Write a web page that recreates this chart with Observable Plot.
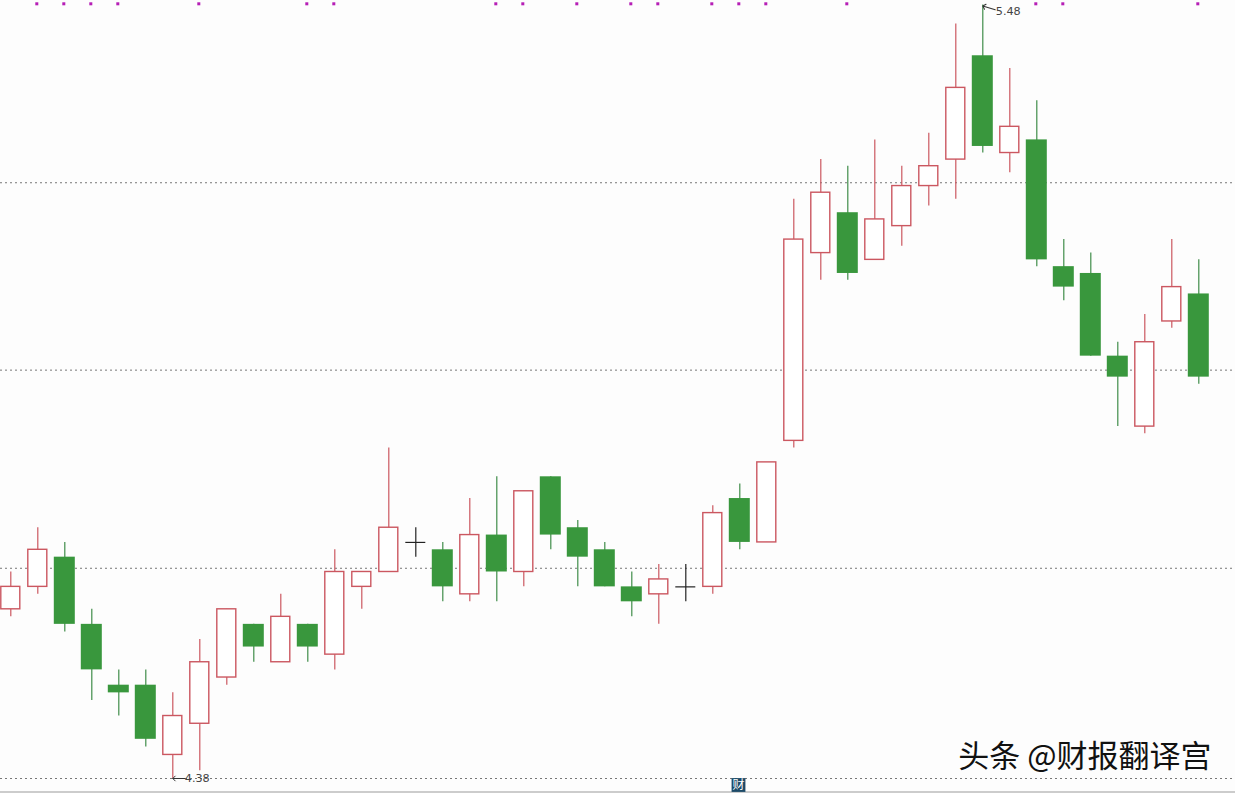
<!DOCTYPE html>
<html>
<head>
<meta charset="utf-8">
<script src="https://cdn.jsdelivr.net/npm/d3@7"></script>
<script src="https://cdn.jsdelivr.net/npm/@observablehq/plot@0.6"></script>
<style>
  html, body { margin: 0; padding: 0; background: #fdfdfd; overflow: hidden; }
  svg { display: block; }
</style>
</head>
<body>
<div id="chart"></div>
<script>
const opens  = [4.60,4.63,4.67,4.58,4.50,4.50,4.41,4.45,4.51,4.58,4.53,4.58,4.54,4.63,4.65,4.69,4.68,4.62,4.70,4.65,4.78,4.71,4.68,4.63,4.62,4.63,4.63,4.75,4.69,4.83,5.10,5.16,5.09,5.14,5.20,5.24,5.40,5.25,5.27,5.08,5.07,4.95,4.85,5.00,5.04];
const highs  = [4.65,4.71,4.69,4.60,4.52,4.52,4.49,4.56,4.60,4.58,4.62,4.58,4.68,4.65,4.82,4.71,4.69,4.75,4.78,4.76,4.78,4.72,4.69,4.65,4.66,4.66,4.74,4.77,4.80,5.18,5.24,5.23,5.27,5.23,5.28,5.45,5.48,5.38,5.33,5.12,5.10,4.97,5.01,5.12,5.09];
const lows   = [4.59,4.62,4.57,4.48,4.46,4.42,4.38,4.39,4.50,4.53,4.53,4.53,4.52,4.60,4.65,4.67,4.61,4.61,4.61,4.63,4.68,4.63,4.63,4.59,4.58,4.61,4.62,4.68,4.69,4.82,5.06,5.06,5.09,5.11,5.17,5.18,5.25,5.22,5.08,5.03,4.95,4.85,4.84,4.99,4.91];
const closes = [4.63,4.68,4.58,4.52,4.49,4.43,4.46,4.53,4.60,4.55,4.59,4.55,4.65,4.65,4.71,4.69,4.63,4.70,4.65,4.76,4.70,4.67,4.63,4.61,4.64,4.63,4.73,4.69,4.80,5.12,5.19,5.07,5.15,5.20,5.23,5.35,5.26,5.29,5.09,5.05,4.95,4.92,4.97,5.05,4.92];
const gridPrices = [4.38,4.655,4.93,5.205];
const markerDays = [1,2,3,4,7,11,12,18,19,21,23,24,26,27,28,31,38,39,44];
const lowLabel = "4.38";
const highLabel = "5.48";
const watermark = "头条 @财报翻译宫";
const badge = "财";

const red = "#cb5760", green = "#39973d", greenWick = "#3f8c49";
const candles = opens.map((o, i) => ({i, open: o, high: highs[i], low: lows[i], close: closes[i]}));
const up = candles.filter(d => d.close > d.open);
const down = candles.filter(d => d.close < d.open);
const flat = candles.filter(d => d.close === d.open);
const tickFont = "DejaVu Sans";

const chart = Plot.plot({
  width: 1235, height: 793, margin: 0,
  style: {background: "#fdfdfd"},
  x: {type: "band", domain: d3.range(45), range: [-3.2, 1211.8], padding: 0, round: false, axis: null},
  y: {type: "log", domain: [4.38, 5.48], range: [778, 4.5], axis: null},
  marks: [
    Plot.ruleY(gridPrices, {stroke: "#777", strokeWidth: 1, strokeDasharray: "2,3"}),
    Plot.frame({anchor: "bottom", insetBottom: 1.5, stroke: "#bbb", strokeWidth: 1.5}),
    Plot.ruleX(up, {x: "i", y1: "low", y2: "high", stroke: red, strokeWidth: 1.2}),
    Plot.ruleX(down, {x: "i", y1: "low", y2: "high", stroke: greenWick, strokeWidth: 1.2}),
    Plot.ruleX(flat, {x: "i", y1: "low", y2: "high", stroke: "#222", strokeWidth: 1.2}),
    Plot.tickY(flat, {x: "i", y: "close", stroke: "#222", strokeWidth: 1.2, insetLeft: 3.5, insetRight: 3.5}),
    Plot.barY(up, {x: "i", y1: "open", y2: "close", fill: "#fff", stroke: red, strokeWidth: 1.4, insetLeft: 4, insetRight: 4}),
    Plot.barY(down, {x: "i", y1: "open", y2: "close", fill: green, insetLeft: 3, insetRight: 3}),
    Plot.dot(markerDays, {x: d => d, frameAnchor: "top", dy: 3.3, dx: -1, symbol: "square", r: 1.7, fill: "#b61fb6"}),
    Plot.vector([lowLabel], {x: () => 6, y: () => 4.38, length: 12, rotate: -90, anchor: "end", stroke: "#333", strokeWidth: 1}),
    Plot.text([lowLabel], {x: () => 6, y: () => 4.38, dx: 12, textAnchor: "start", fontSize: 11.2, fontFamily: tickFont, fill: "#444"}),
    Plot.vector([highLabel], {x: () => 36, y: () => 5.48, dy: 1, length: 13, rotate: -73, anchor: "end", stroke: "#333", strokeWidth: 1}),
    Plot.text([highLabel], {x: () => 36, y: () => 5.48, dx: 13, dy: 6, textAnchor: "start", fontSize: 11.2, fontFamily: tickFont, fill: "#444"}),
    Plot.text([watermark], {frameAnchor: "bottom-right", dx: -24, dy: -27, fontSize: 31, fontFamily: "Noto Sans CJK SC", fill: "#111"}),
    Plot.dot([badge], {x: () => 27, frameAnchor: "bottom", dx: -1.3, dy: -8.5, symbol: "square", r: 7.8, fill: "#1c4a68"}),
    Plot.text([badge], {x: () => 27, frameAnchor: "bottom", lineAnchor: "middle", dx: -1.3, dy: -8.5, fontSize: 12, fontFamily: "Noto Sans CJK SC", fill: "#fff"})
  ]
});
document.getElementById("chart").append(chart);
</script>
</body>
</html>
